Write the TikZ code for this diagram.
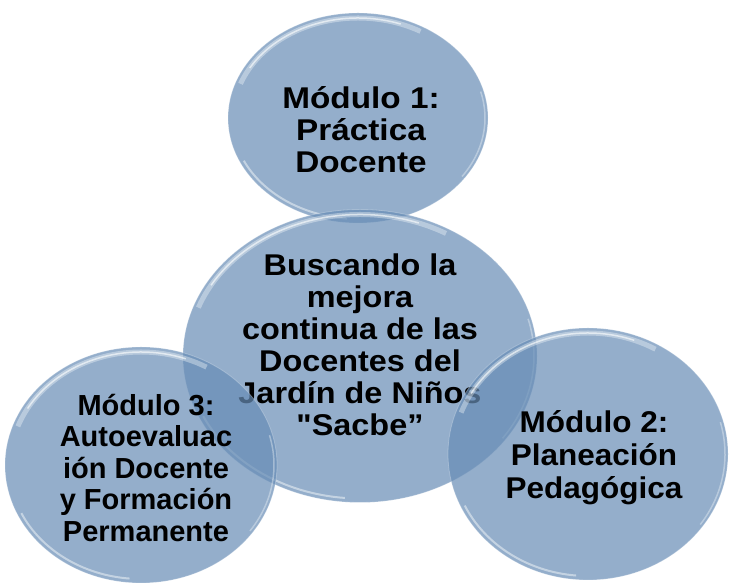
\documentclass[tikz,border=0pt]{standalone}
\usepackage{fontspec}
\setmainfont{Liberation Sans}
\usetikzlibrary{shapes.geometric,positioning}
\definecolor{bubblefill}{RGB}{104,141,182}
\tikzset{
	bubble/.style 2 args={ellipse, minimum width=#1, minimum height=#2, inner sep=0pt,
		fill=bubblefill, fill opacity=.71, draw=white, draw opacity=.25, line width=.8pt,
		path picture={
			\draw[white, opacity=.35, line width=5pt]
				([shift={(160:{#1/2-5pt} and {#2/2-5pt})}]path picture bounding box.center)
				arc[start angle=160, end angle=60, x radius=#1/2-5pt, y radius=#2/2-5pt];
			\draw[white, opacity=.6, line width=1.5pt]
				([shift={(150:{#1/2-5pt} and {#2/2-5pt})}]path picture bounding box.center)
				arc[start angle=150, end angle=70, x radius=#1/2-5pt, y radius=#2/2-5pt];
			\draw[white, opacity=.45, line width=2pt]
				([shift={(205:{#1/2-4pt} and {#2/2-4pt})}]path picture bounding box.center)
				arc[start angle=205, end angle=265, x radius=#1/2-4pt, y radius=#2/2-4pt];
			\draw[white, opacity=.35, line width=1.5pt]
				([shift={(15:{#1/2-3pt} and {#2/2-3pt})}]path picture bounding box.center)
				arc[start angle=15, end angle=-35, x radius=#1/2-3pt, y radius=#2/2-3pt];
		}},
	bubble text/.style={font=\bfseries\fontsize{30}{32}\selectfont, align=center,
		text=black, inner sep=0pt, transform shape, xscale=#1},
	bubble text/.default=1.05
}
\begin{document}
\begin{tikzpicture}[x=1pt,y=1pt]
	\useasboundingbox (0,0) rectangle (730,585);
	\node[bubble={260pt}{210pt}] (top) at (358,467) {};
	\node[bubble text=1.11] (m1) at (361,455) {Módulo 1:\\Práctica\\Docente};
	\node[bubble={354pt}{293pt}] (mid) at (360,229) {};
	\node[bubble text=1.08] (goal) at (360,240) {Buscando la\\mejora\\continua de las\\Docentes del\\Jardín de Niños\\\textquotedbl Sacbe”};
	\node[bubble={272pt}{236pt}] (left) at (141,120) {};
	\node[bubble text=1.0, font=\bfseries\fontsize{29}{31.5}\selectfont] (m3) at (146,117) {Módulo 3:\\Autoevaluac\\ión Docente\\y Formación\\Permanente};
	\node[bubble={280pt}{252pt}] (right) at (588,131) {};
	\node[bubble text, font=\bfseries\fontsize{30}{33}\selectfont] (m2) at (594,127) {Módulo 2:\\Planeación\\Pedagógica};
\end{tikzpicture}
\end{document}
